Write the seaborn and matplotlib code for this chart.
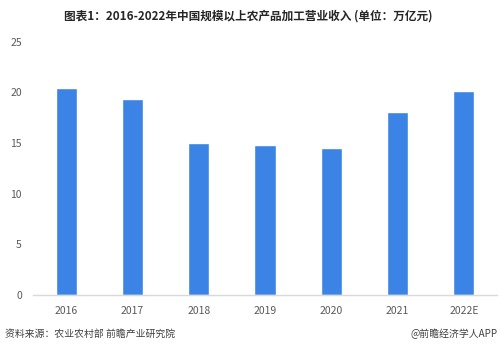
import matplotlib
matplotlib.use("Agg")
import matplotlib.pyplot as plt
import seaborn as sns
import pandas as pd

years = ["2016", "2017", "2018", "2019", "2020", "2021", "2022E"]
revenue = [20.4, 19.4, 15.0, 14.8, 14.5, 18.1, 20.1]
yticks = [0, 5, 10, 15, 20, 25]

sns.set_theme(style="white")
plt.rcParams['font.family'] = ['Noto Sans CJK SC', 'DejaVu Sans']

df = pd.DataFrame({"year": years, "value": revenue})

fig = plt.figure(figsize=(5, 3.49), dpi=100)
ax = fig.add_axes([0.066, 0.155, 0.928, 0.725])
sns.barplot(data=df, x="year", y="value", color="#3b84e6", saturation=1,
            width=0.32, ax=ax)

ax.set_xlim(-0.5, 6.5)
ax.set_ylim(0, 25)
ax.set_yticks(yticks)
ax.set_xlabel("")
ax.set_ylabel("")
for s in ["top", "right", "left"]:
    ax.spines[s].set_visible(False)
ax.spines["bottom"].set_color("#d9d9d9")
ax.spines["bottom"].set_linewidth(1)
ax.tick_params(axis="both", length=0, labelsize=7.5, colors="#595959")
ax.tick_params(axis="x", pad=8)
ax.tick_params(axis="y", pad=8)

fig.text(0.496, 0.955, "图表1：2016-2022年中国规模以上农产品加工营业收入 (单位：万亿元)",
         ha="center", va="center", fontsize=8.4, fontweight="bold", color="#262626")
fig.text(0.01, 0.043, "资料来源：农业农村部 前瞻产业研究院", ha="left", va="center",
         fontsize=7.1, color="#404040")
fig.text(0.995, 0.043, "@前瞻经济学人APP", ha="right", va="center",
         fontsize=7.1, color="#404040")

fig.savefig("out.png", dpi=100)
